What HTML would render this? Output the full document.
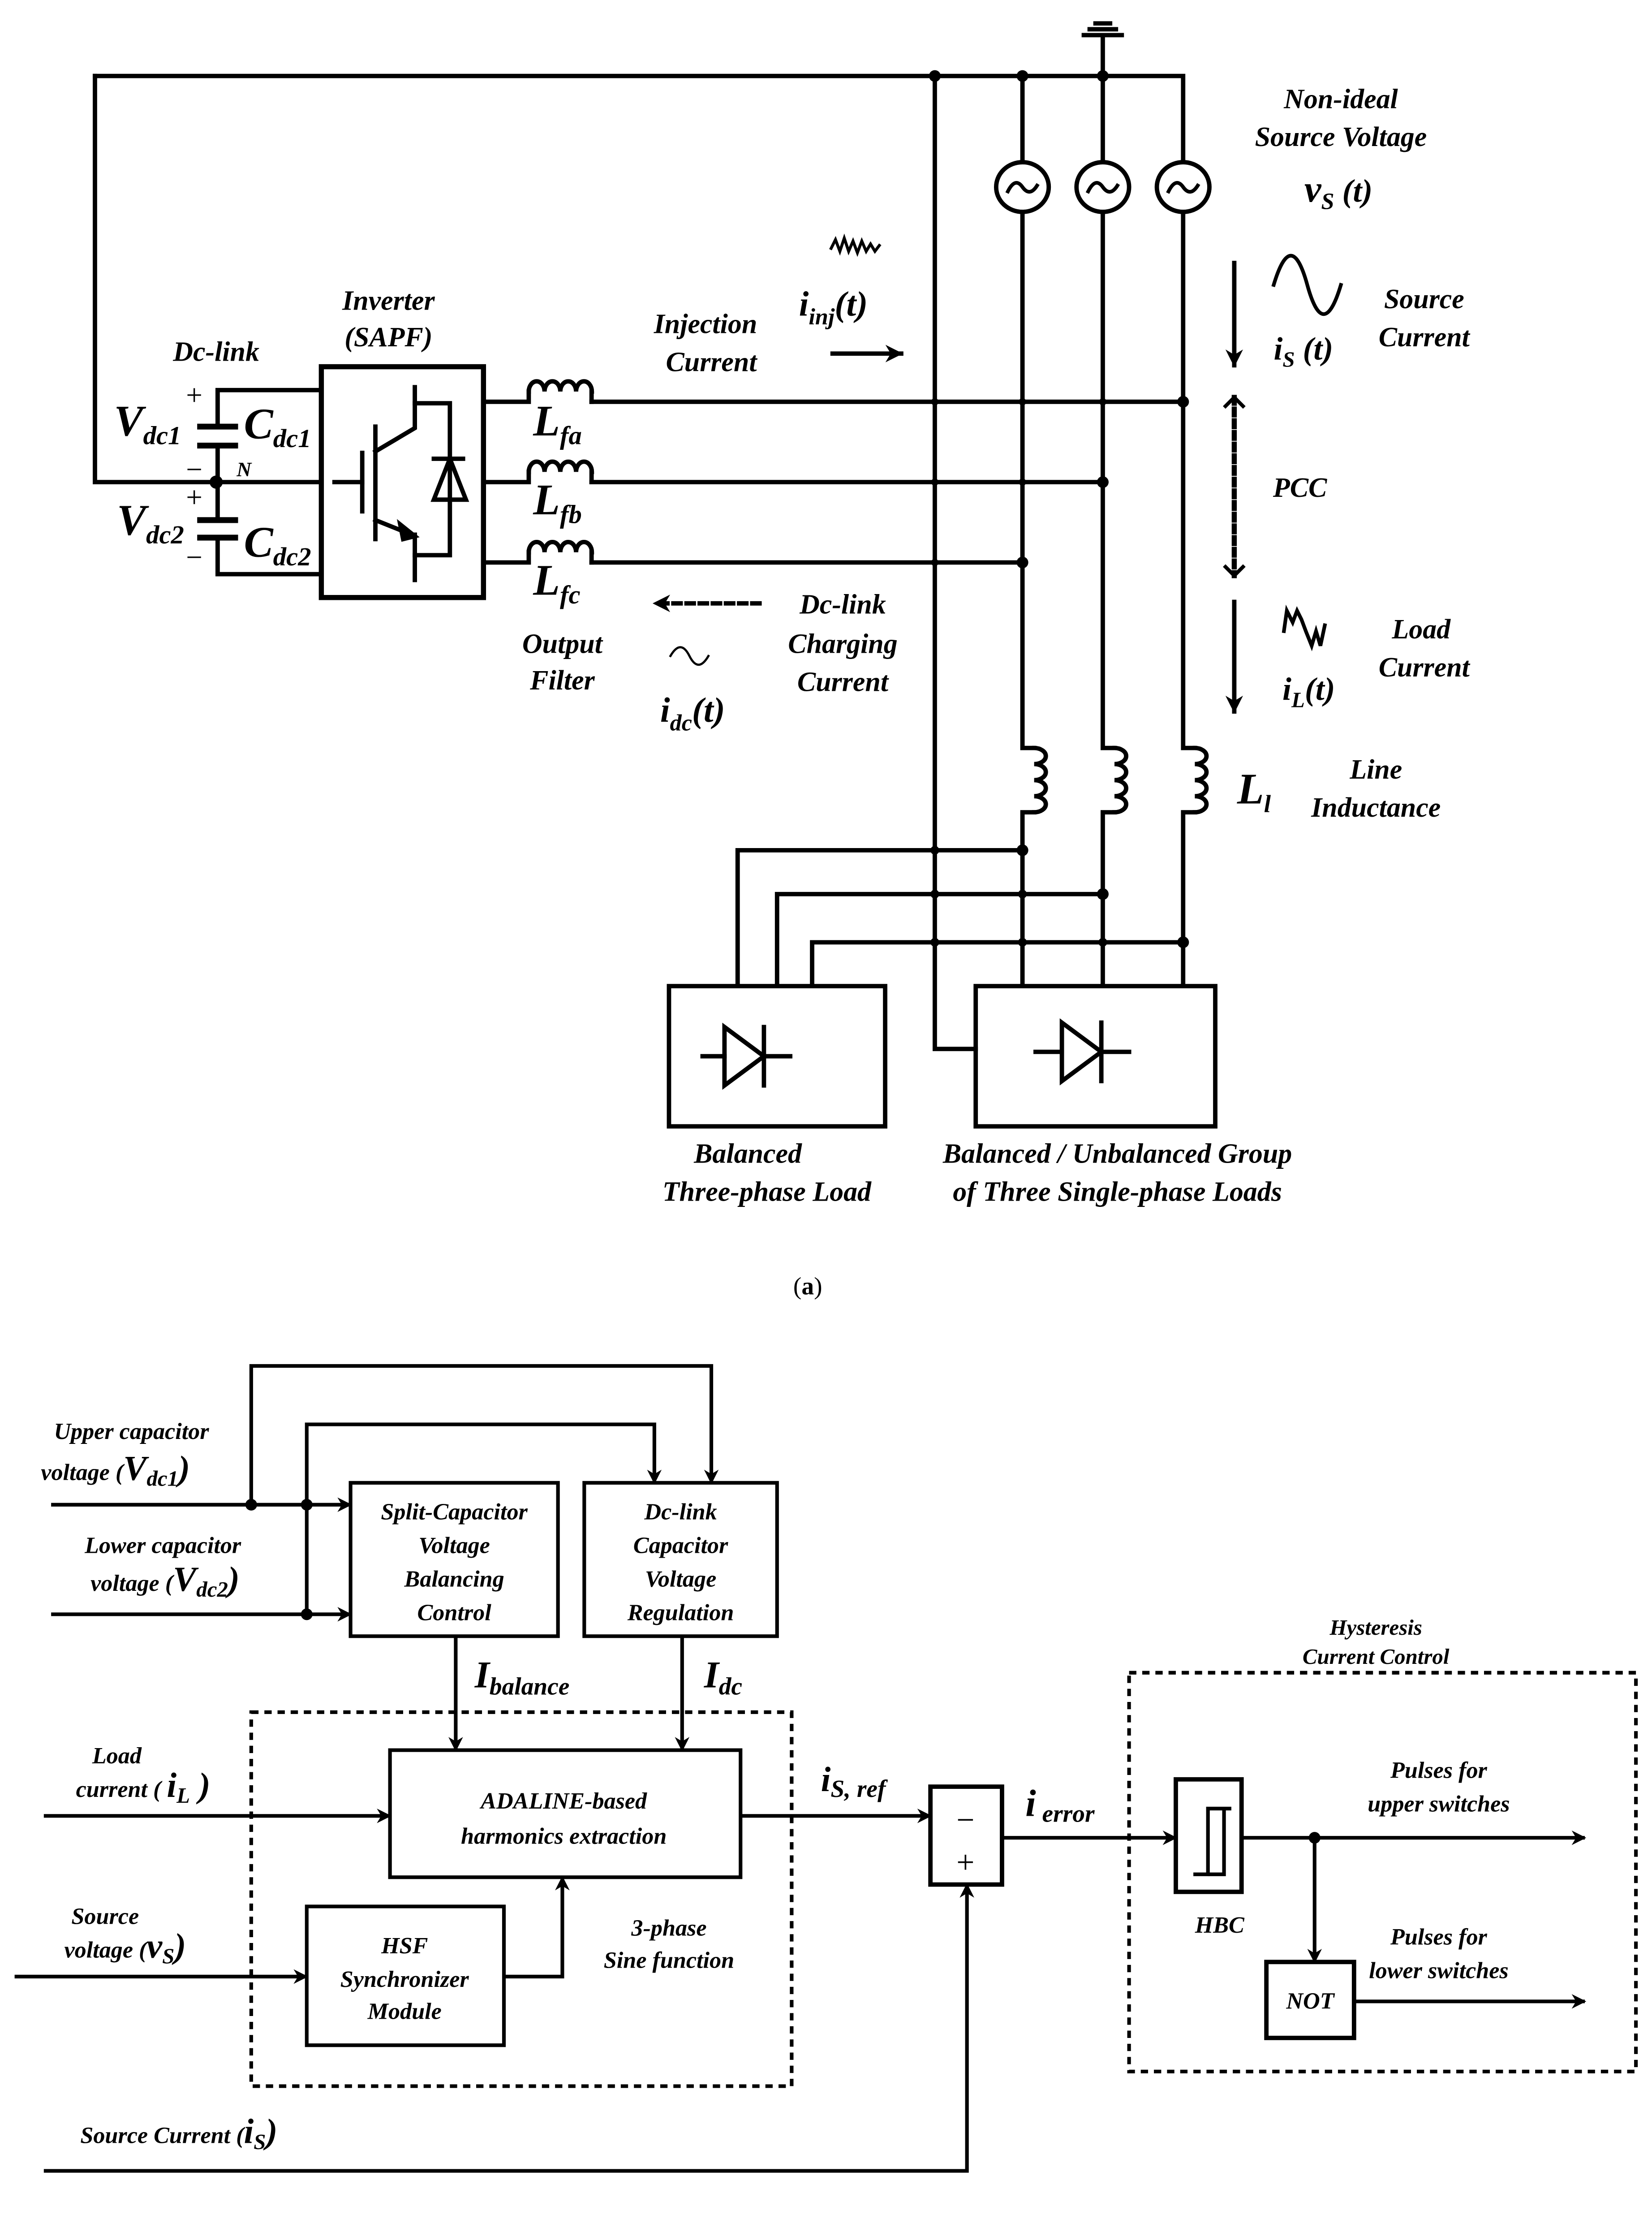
<!DOCTYPE html>
<html><head><meta charset="utf-8">
<style>
html,body{margin:0;padding:0;background:#fff;width:3688px;height:5106px;overflow:hidden;}
svg{display:block;}
text{font-family:"Liberation Serif",serif;font-weight:bold;font-style:italic;fill:#000;}
</style></head>
<body>
<svg width="3688" height="5106" viewBox="0 0 1131 1565.8" xmlns="http://www.w3.org/2000/svg">
<defs>
<marker id="ar" viewBox="0 0 10 10" refX="9" refY="5" markerWidth="4" markerHeight="4" orient="auto-start-reverse" markerUnits="strokeWidth">
<path d="M0,0 L10,5 L0,10 L3,5 z" fill="#000"/></marker>
</defs>
<g stroke="#000" stroke-width="3" fill="none" stroke-linecap="square">
<polyline points="65,52 810,52 810,111"/>
<polyline points="65,52 65,330 220,330"/>
<line x1="755" y1="52" x2="755" y2="24"/>
<line x1="742" y1="24" x2="768" y2="24"/>
<line x1="746" y1="20" x2="764" y2="20"/>
<line x1="750" y1="16" x2="760" y2="16"/>
<polyline points="640,52 640,718 668,718"/>
<line x1="700" y1="52" x2="700" y2="111"/>
<line x1="755" y1="52" x2="755" y2="111"/>
<polyline points="700,145 700,512 708,512"/>
<polyline points="755,145 755,512 763,512"/>
<polyline points="810,145 810,512 818,512"/>
<polyline points="708,556 700,556 700,675"/>
<polyline points="763,556 755,556 755,675"/>
<polyline points="818,556 810,556 810,675"/>
<path d="M708,512 a8,5.5 0 0 1 0,11 a8,5.5 0 0 1 0,11 a8,5.5 0 0 1 0,11 a8,5.5 0 0 1 0,11"/>
<path d="M763,512 a8,5.5 0 0 1 0,11 a8,5.5 0 0 1 0,11 a8,5.5 0 0 1 0,11 a8,5.5 0 0 1 0,11"/>
<path d="M818,512 a8,5.5 0 0 1 0,11 a8,5.5 0 0 1 0,11 a8,5.5 0 0 1 0,11 a8,5.5 0 0 1 0,11"/>
<ellipse cx="700" cy="128" rx="18" ry="17"/>
<ellipse cx="755" cy="128" rx="18" ry="17"/>
<ellipse cx="810" cy="128" rx="18" ry="17"/>
<path d="M690,131 q5,-10 10,-3 q5,7 10,-1" stroke-width="2.5"/>
<path d="M745,131 q5,-10 10,-3 q5,7 10,-1" stroke-width="2.5"/>
<path d="M800,131 q5,-10 10,-3 q5,7 10,-1" stroke-width="2.5"/>
<line x1="405" y1="275" x2="810" y2="275"/>
<line x1="405" y1="330" x2="755" y2="330"/>
<line x1="405" y1="385" x2="700" y2="385"/>
<polyline points="505,675 505,582 700,582"/>
<polyline points="532,675 532,612 755,612"/>
<polyline points="556,675 556,645 810,645"/>
<rect x="458" y="675" width="148" height="96"/>
<rect x="668" y="675" width="164" height="96"/>
<polyline points="481,723 496,723"/><polygon points="496,703 496,743 523,723"/><line x1="523" y1="703" x2="523" y2="743"/><line x1="523" y1="723" x2="541" y2="723"/>
<polyline points="709,720 727,720"/><polygon points="727,700 727,740 754,720"/><line x1="754" y1="700" x2="754" y2="740"/><line x1="754" y1="720" x2="773" y2="720"/>
<polyline points="220,267 149,267 149,292"/>
<line x1="137" y1="292" x2="161" y2="292" stroke-width="4"/>
<line x1="137" y1="305" x2="161" y2="305" stroke-width="4"/>
<line x1="149" y1="305" x2="149" y2="356"/>
<line x1="137" y1="356" x2="161" y2="356" stroke-width="4"/>
<line x1="137" y1="368" x2="161" y2="368" stroke-width="4"/>
<polyline points="149,368 149,393 220,393"/>
<rect x="220" y="251" width="111" height="158" stroke-width="3.5"/>
<line x1="229" y1="330" x2="248" y2="330"/>
<line x1="248" y1="310" x2="248" y2="350"/>
<line x1="257" y1="292" x2="257" y2="369"/>
<polyline points="257,309 284,293 284,265"/>
<polyline points="284,276 308,276 308,380 284,380"/>
<polyline points="257,356 282,366"/>
<polygon points="284,367 274,359 276,369" fill="#000"/>
<line x1="284" y1="366" x2="284" y2="397"/>
<line x1="297" y1="314" x2="317" y2="314"/>
<polygon points="308,314 297,342 319,342"/>
<g>
<polyline points="331,275 362,275 362,268"/><path d="M362,268 a5.4,7 0 0 1 10.8,0 a5.4,7 0 0 1 10.8,0 a5.4,7 0 0 1 10.8,0 a5.4,7 0 0 1 10.8,0"/><polyline points="405,268 405,275"/>
<polyline points="331,330 362,330 362,323"/><path d="M362,323 a5.4,7 0 0 1 10.8,0 a5.4,7 0 0 1 10.8,0 a5.4,7 0 0 1 10.8,0 a5.4,7 0 0 1 10.8,0"/><polyline points="405,323 405,330"/>
<polyline points="331,385 362,385 362,378"/><path d="M362,378 a5.4,7 0 0 1 10.8,0 a5.4,7 0 0 1 10.8,0 a5.4,7 0 0 1 10.8,0 a5.4,7 0 0 1 10.8,0"/><polyline points="405,378 405,385"/>
</g>
<line x1="570" y1="242" x2="617" y2="242" marker-end="url(#ar)"/>
<line x1="520" y1="413" x2="448" y2="413" stroke-dasharray="5,4" marker-end="url(#ar)"/>
<line x1="845" y1="180" x2="845" y2="250" marker-end="url(#ar)"/>
<line x1="845" y1="272" x2="845" y2="394" stroke-dasharray="4,4" stroke-width="3.5"/>
<polyline points="839,278 845,272 851,278" stroke-width="2.5"/>
<polyline points="839,388 845,394 851,388" stroke-width="2.5"/>
<line x1="845" y1="412" x2="845" y2="487" marker-end="url(#ar)"/>
<path d="M872,195 q12,-40 23,0 q11,40 23,0" stroke-width="2.5"/>
<path d="M459,449 q7,-12 13,0 q6,12 13,0" stroke-width="1.5"/>
<path d="M569,170 l3,-6 l3,8 l3,-9 l3,9 l3,-7 l3,8 l3,-8 l3,7 l3,-5 l3,5 l3,-4" stroke-width="2"/>
<path d="M879,432 l2,-14 l4,8 l3,-8 l3,6 l3,8 l4,10 l3,-10 l3,10 l3,-14" stroke-width="2.5"/>
</g>
<g fill="#000">
<circle cx="148" cy="330" r="4.5"/>
<circle cx="640" cy="52" r="4"/><circle cx="700" cy="52" r="4"/><circle cx="755" cy="52" r="4"/>
<circle cx="810" cy="275" r="4"/><circle cx="755" cy="330" r="4"/><circle cx="700" cy="385" r="4"/>
<circle cx="640" cy="275" r="2.5"/><circle cx="700" cy="275" r="2.5"/><circle cx="755" cy="275" r="2.5"/>
<circle cx="640" cy="330" r="2.5"/><circle cx="700" cy="330" r="2.5"/><circle cx="640" cy="385" r="2.5"/>
<circle cx="700" cy="582" r="4"/><circle cx="640" cy="582" r="3"/>
<circle cx="755" cy="612" r="4"/><circle cx="640" cy="612" r="3"/><circle cx="700" cy="612" r="3"/>
<circle cx="810" cy="645" r="4"/><circle cx="640" cy="645" r="3"/><circle cx="700" cy="645" r="3"/><circle cx="755" cy="645" r="3"/>
</g>
<g font-size="19" text-anchor="middle">
<text x="918" y="74">Non-ideal</text>
<text x="918" y="100">Source Voltage</text>
<text x="975" y="211">Source</text>
<text x="975" y="237">Current</text>
<text x="890" y="340">PCC</text>
<text x="973" y="437">Load</text>
<text x="975" y="463">Current</text>
<text x="942" y="533">Line</text>
<text x="942" y="559">Inductance</text>
<text x="483" y="228">Injection</text>
<text x="487" y="254">Current</text>
<text x="577" y="420">Dc-link</text>
<text x="577" y="447">Charging</text>
<text x="577" y="473">Current</text>
<text x="385" y="447">Output</text>
<text x="385" y="472">Filter</text>
<text x="266" y="212">Inverter</text>
<text x="266" y="237">(SAPF)</text>
<text x="148" y="247">Dc-link</text>
<text x="512" y="796">Balanced</text>
<text x="525" y="822">Three-phase Load</text>
<text x="765" y="796">Balanced / Unbalanced Group</text>
<text x="765" y="822">of Three Single-phase Loads</text>
</g>
<g font-size="26">
<text x="893" y="138">v<tspan font-size="16" dy="5">S</tspan><tspan dy="-5" font-size="22"> (t)</tspan></text>
<text x="872" y="246" font-size="22">i<tspan font-size="15" dy="5">S</tspan><tspan dy="-5"> (t)</tspan></text>
<text x="878" y="479" font-size="22">i<tspan font-size="15" dy="5">L</tspan><tspan dy="-5">(t)</tspan></text>
<text x="847" y="550" font-size="30">L<tspan font-size="17" dy="6">l</tspan></text>
<text x="547" y="216" font-size="24">i<tspan font-size="16" dy="6">inj</tspan><tspan dy="-6">(t)</tspan></text>
<text x="452" y="494" font-size="24">i<tspan font-size="16" dy="6">dc</tspan><tspan dy="-6">(t)</tspan></text>
<text x="365" y="298" font-size="30">L<tspan font-size="18" dy="6">fa</tspan></text>
<text x="365" y="352" font-size="30">L<tspan font-size="18" dy="6">fb</tspan></text>
<text x="365" y="407" font-size="30">L<tspan font-size="18" dy="6">fc</tspan></text>
<text x="78" y="298" font-size="30">V<tspan font-size="18" dy="6">dc1</tspan></text>
<text x="80" y="366" font-size="30">V<tspan font-size="18" dy="6">dc2</tspan></text>
<text x="167" y="300" font-size="30">C<tspan font-size="18" dy="6">dc1</tspan></text>
<text x="167" y="381" font-size="30">C<tspan font-size="18" dy="6">dc2</tspan></text>
<text x="162" y="326" font-size="14">N</text>
</g>
<g font-size="20" text-anchor="middle">
<text x="133" y="277" style="font-style:normal;font-weight:normal">+</text>
<text x="133" y="328" style="font-style:normal;font-weight:normal">−</text>
<text x="133" y="347" style="font-style:normal;font-weight:normal">+</text>
<text x="133" y="388" style="font-style:normal;font-weight:normal">−</text>
<text x="553" y="886" font-size="17" style="font-style:normal;font-weight:normal">(<tspan style="font-weight:bold">a</tspan>)</text>
<text x="553" y="1554" font-size="17" style="font-style:normal;font-weight:normal">(<tspan style="font-weight:bold">b</tspan>)</text>
</g>

<g stroke="#000" stroke-width="2.5" fill="none">
<polyline points="172,1030 172,935 487,935 487,1015" marker-end="url(#ar)"/>
<polyline points="210,1105 210,975 448,975 448,1015" marker-end="url(#ar)"/>
<line x1="35" y1="1030" x2="240" y2="1030" marker-end="url(#ar)"/>
<line x1="35" y1="1105" x2="240" y2="1105" marker-end="url(#ar)"/>
<rect x="240" y="1015" width="142" height="105"/>
<rect x="400" y="1015" width="132" height="105"/>
<line x1="312" y1="1120" x2="312" y2="1198" marker-end="url(#ar)"/>
<line x1="467" y1="1120" x2="467" y2="1198" marker-end="url(#ar)"/>
<rect x="172" y="1172" width="370" height="256" stroke-dasharray="5,4"/>
<rect x="267" y="1198" width="240" height="87"/>
<line x1="30" y1="1243" x2="267" y2="1243" marker-end="url(#ar)"/>
<rect x="210" y="1305" width="135" height="95"/>
<line x1="10" y1="1353" x2="210" y2="1353" marker-end="url(#ar)"/>
<polyline points="345,1353 385,1353 385,1285" marker-end="url(#ar)"/>
<line x1="507" y1="1243" x2="637" y2="1243" marker-end="url(#ar)"/>
<rect x="637" y="1223" width="49" height="67" stroke-width="3"/>
<polyline points="30,1486 662,1486 662,1290" marker-end="url(#ar)"/>
<line x1="686" y1="1258" x2="805" y2="1258" marker-end="url(#ar)"/>
<rect x="773" y="1145" width="347" height="273" stroke-dasharray="5,4"/>
<rect x="805" y="1218" width="45" height="77" stroke-width="3"/>
<polyline points="817,1283 827,1283 827,1238 843,1238"/>
<polyline points="827,1283 838,1283 838,1238"/>
<line x1="850" y1="1258" x2="1085" y2="1258" marker-end="url(#ar)"/>
<line x1="900" y1="1258" x2="900" y2="1343" marker-end="url(#ar)"/>
<rect x="867" y="1343" width="60" height="52" stroke-width="3"/>
<line x1="927" y1="1370" x2="1085" y2="1370" marker-end="url(#ar)"/>
</g>
<g fill="#000">
<circle cx="172" cy="1030" r="4"/><circle cx="210" cy="1030" r="4"/><circle cx="210" cy="1105" r="4"/><circle cx="900" cy="1258" r="4"/>
</g>
<g font-size="16" text-anchor="middle">
<text x="311" y="1040">Split-Capacitor</text><text x="311" y="1063">Voltage</text><text x="311" y="1086">Balancing</text><text x="311" y="1109">Control</text>
<text x="466" y="1040">Dc-link</text><text x="466" y="1063">Capacitor</text><text x="466" y="1086">Voltage</text><text x="466" y="1109">Regulation</text>
<text x="386" y="1238">ADALINE-based</text><text x="386" y="1262">harmonics extraction</text>
<text x="277" y="1337">HSF</text><text x="277" y="1360">Synchronizer</text><text x="277" y="1382">Module</text>
<text x="458" y="1325">3-phase</text><text x="458" y="1347">Sine function</text>
<text x="942" y="1119" font-size="15">Hysteresis</text><text x="942" y="1139" font-size="15">Current Control</text>
<text x="985" y="1217">Pulses for</text><text x="985" y="1240">upper switches</text>
<text x="985" y="1331">Pulses for</text><text x="985" y="1354">lower switches</text>
<text x="835" y="1323">HBC</text><text x="897" y="1375">NOT</text>
<text x="90" y="985">Upper capacitor</text>
<text x="80" y="1207">Load</text>
<text x="72" y="1317">Source</text>
</g>
<g font-size="16">
<text x="28" y="1013">voltage (<tspan font-size="24">V</tspan><tspan font-size="15" dy="4">dc1</tspan><tspan font-size="24" dy="-4">)</tspan></text>
<text x="58" y="1063">Lower capacitor</text>
<text x="62" y="1089">voltage (<tspan font-size="24">V</tspan><tspan font-size="15" dy="4">dc2</tspan><tspan font-size="24" dy="-4">)</tspan></text>
<text x="52" y="1230">current ( <tspan font-size="24">i</tspan><tspan font-size="15" dy="4">L</tspan><tspan font-size="24" dy="-4"> )</tspan></text>
<text x="44" y="1340">voltage (<tspan font-size="24">v</tspan><tspan font-size="15" dy="4">S</tspan><tspan font-size="24" dy="-4">)</tspan></text>
<text x="55" y="1467">Source Current (<tspan font-size="24">i</tspan><tspan font-size="15" dy="4">S</tspan><tspan font-size="24" dy="-4">)</tspan></text>
<text x="325" y="1155" font-size="26">I<tspan font-size="17" dy="5">balance</tspan></text>
<text x="482" y="1155" font-size="26">I<tspan font-size="17" dy="5">dc</tspan></text>
<text x="562" y="1226" font-size="24">i<tspan font-size="17" dy="4">S, ref</tspan></text>
<text x="702" y="1243" font-size="26">i<tspan font-size="17" dy="4"> error</tspan></text>
</g>
<g font-size="22" text-anchor="middle">
<text x="661" y="1253" style="font-style:normal;font-weight:normal">−</text>
<text x="661" y="1282" style="font-style:normal;font-weight:normal">+</text>
</g>
</svg>
</body></html>
